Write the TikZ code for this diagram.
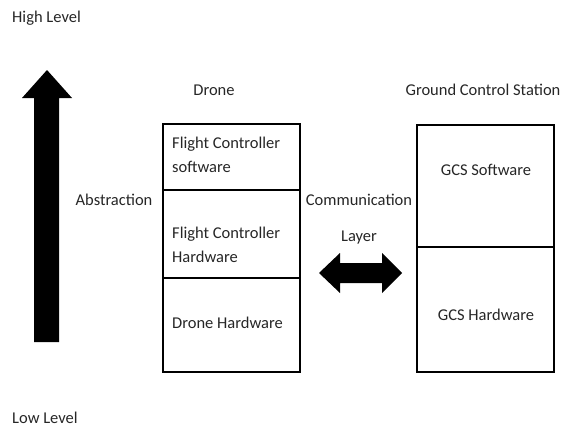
\documentclass[tikz,border=0pt]{standalone}
\usepackage{fontspec}
\setmainfont{Carlito}
\begin{document}
\begin{tikzpicture}[x=1pt,y=-1pt,
  lbl/.style={inner sep=0pt, font=\fontsize{16.5}{20}\selectfont, text=black!85},
  part/.style={draw=black, line width=1.3pt},
  blk/.style={fill=black, draw=none}]
\useasboundingbox (0,0) rectangle (572,428);
% texts
\node[lbl, anchor=west] (high) at (12,18) {High Level};
\node[lbl, anchor=west] (low) at (12,418) {Low Level};
\node[lbl] (drone) at (214,90) {Drone};
\node[lbl] (gcs) at (483,90) {Ground Control Station};
\node[lbl] (abs) at (114,200) {Abstraction};
\node[lbl] (comm) at (359,200) {Communication};
\node[lbl] (layer) at (359,238) {Layer};
% drone stack
\draw[part] (163,124) rectangle (300,372);
\draw[part] (163,190) -- (300,190);
\draw[part] (163,278) -- (300,278);
\node[lbl, anchor=west, align=left] (fcs) at (172,155) {Flight Controller\\[4pt]software};
\node[lbl, anchor=west, align=left] (fch) at (172,245) {Flight Controller\\[4pt]Hardware};
\node[lbl, anchor=west] (dh) at (172,323) {Drone Hardware};
% gcs stack
\draw[part] (417,125) rectangle (554,372);
\draw[part] (417,247) -- (554,247);
\node[lbl] (gsw) at (486,170) {GCS Software};
\node[lbl] (ghw) at (486,315) {GCS Hardware};
% up arrow
\fill[blk] (47,70) -- (72,98) -- (59,98) -- (59,342) -- (34,342) -- (34,98) -- (22,98) -- cycle;
% double arrow
\fill[blk] (319,273) -- (340,253) -- (340,263) -- (382,263) -- (382,253) -- (402,273)
  -- (382,293) -- (382,283) -- (340,283) -- (340,293) -- cycle;
\end{tikzpicture}
\end{document}
